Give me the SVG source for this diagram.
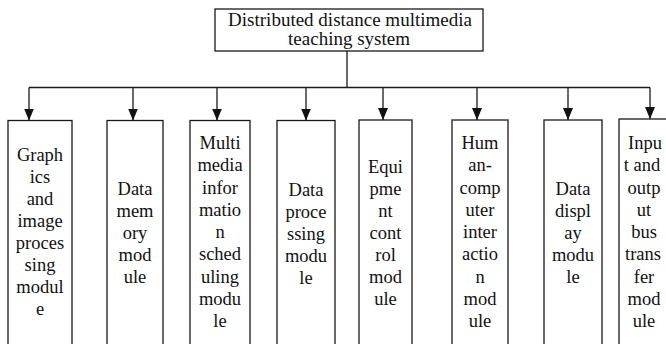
<svg xmlns="http://www.w3.org/2000/svg" width="666" height="344" viewBox="0 0 666 344">
<defs>
<marker id="arr" viewBox="0 0 12 10" refX="12" refY="5" markerWidth="12" markerHeight="10" markerUnits="userSpaceOnUse" orient="auto">
<path d="M0,0 L12,5 L0,10 z" fill="#111"/>
</marker>
</defs>
<style>
.box{fill:#fff;stroke:#1a1a1a;stroke-width:1.3}
.t{font-family:"Liberation Serif","Times New Roman",serif;font-size:18.5px;fill:#111;text-anchor:middle}
.tt{font-family:"Liberation Serif","Times New Roman",serif;font-size:19px;fill:#111;text-anchor:middle}
.c{fill:none;stroke:#1a1a1a;stroke-width:1.3}
</style>
<rect width="666" height="344" fill="#fff"/>
<g id="connectors">
<path class="c" d="M347,51 V87.5 M29,87.5 H650"/>
<path class="c" d="M29,87.5 V120.5" marker-end="url(#arr)"/>
<path class="c" d="M133,87.5 V120.5" marker-end="url(#arr)"/>
<path class="c" d="M217,87.5 V120.5" marker-end="url(#arr)"/>
<path class="c" d="M306,87.5 V120.5" marker-end="url(#arr)"/>
<path class="c" d="M383,87.5 V120" marker-end="url(#arr)"/>
<path class="c" d="M477,87.5 V120" marker-end="url(#arr)"/>
<path class="c" d="M568,87.5 V120" marker-end="url(#arr)"/>
<path class="c" d="M650,87.5 V119" marker-end="url(#arr)"/>
</g>
<g id="root">
<rect class="box" x="215" y="9" width="268" height="42"/>
<text class="tt" x="350"><tspan x="350" y="26">Distributed distance multimedia</tspan><tspan x="349" y="45">teaching system</tspan></text>
</g>
<g id="m1">
<rect class="box" x="8" y="120.5" width="64" height="240"/>
<text class="t"><tspan x="40" y="161">Graph</tspan><tspan x="40" y="183">ics</tspan><tspan x="40" y="205">and</tspan><tspan x="40" y="227">image</tspan><tspan x="40" y="249">proces</tspan><tspan x="40" y="271">sing</tspan><tspan x="40" y="293">modul</tspan><tspan x="40" y="315">e</tspan></text>
</g>
<g id="m2">
<rect class="box" x="107" y="120.5" width="56" height="240"/>
<text class="t"><tspan x="135" y="195">Data</tspan><tspan x="135" y="217">mem</tspan><tspan x="135" y="239">ory</tspan><tspan x="135" y="261">mod</tspan><tspan x="135" y="283">ule</tspan></text>
</g>
<g id="m3">
<rect class="box" x="190" y="120.5" width="60" height="240"/>
<text class="t"><tspan x="220" y="149">Multi</tspan><tspan x="220" y="171">media</tspan><tspan x="220" y="193.5">infor</tspan><tspan x="220" y="216">matio</tspan><tspan x="220" y="238">n</tspan><tspan x="220" y="260">sched</tspan><tspan x="220" y="282.5">uling</tspan><tspan x="220" y="305">modu</tspan><tspan x="220" y="327">le</tspan></text>
</g>
<g id="m4">
<rect class="box" x="277" y="120.5" width="58" height="240"/>
<text class="t"><tspan x="306" y="196">Data</tspan><tspan x="306" y="218">proce</tspan><tspan x="306" y="240">ssing</tspan><tspan x="306" y="262">modu</tspan><tspan x="306" y="284">le</tspan></text>
</g>
<g id="m5">
<rect class="box" x="359" y="120" width="53" height="240"/>
<text class="t"><tspan x="385.5" y="173">Equi</tspan><tspan x="385.5" y="195">pme</tspan><tspan x="385.5" y="217">nt</tspan><tspan x="385.5" y="239">cont</tspan><tspan x="385.5" y="261">rol</tspan><tspan x="385.5" y="283">mod</tspan><tspan x="385.5" y="305">ule</tspan></text>
</g>
<g id="m6">
<rect class="box" x="452" y="120" width="56" height="240"/>
<text class="t"><tspan x="480" y="149">Hum</tspan><tspan x="480" y="171">an-</tspan><tspan x="480" y="193.5">comp</tspan><tspan x="480" y="216">uter</tspan><tspan x="480" y="238">inter</tspan><tspan x="480" y="260">actio</tspan><tspan x="480" y="282.5">n</tspan><tspan x="480" y="305">mod</tspan><tspan x="480" y="327">ule</tspan></text>
</g>
<g id="m7">
<rect class="box" x="544" y="120" width="58" height="240"/>
<text class="t"><tspan x="573" y="195">Data</tspan><tspan x="573" y="217">displ</tspan><tspan x="573" y="239">ay</tspan><tspan x="573" y="261">modu</tspan><tspan x="573" y="283">le</tspan></text>
</g>
<g id="m8">
<rect class="box" x="619" y="119" width="52" height="240"/>
<text class="t"><tspan x="645" y="149">Inpu</tspan><tspan x="642" y="171">t and</tspan><tspan x="644" y="193.5">outp</tspan><tspan x="644" y="216">ut</tspan><tspan x="644" y="238">bus</tspan><tspan x="643" y="260">trans</tspan><tspan x="644" y="282.5">fer</tspan><tspan x="644" y="305">mod</tspan><tspan x="644" y="327">ule</tspan></text>
</g>
</svg>
